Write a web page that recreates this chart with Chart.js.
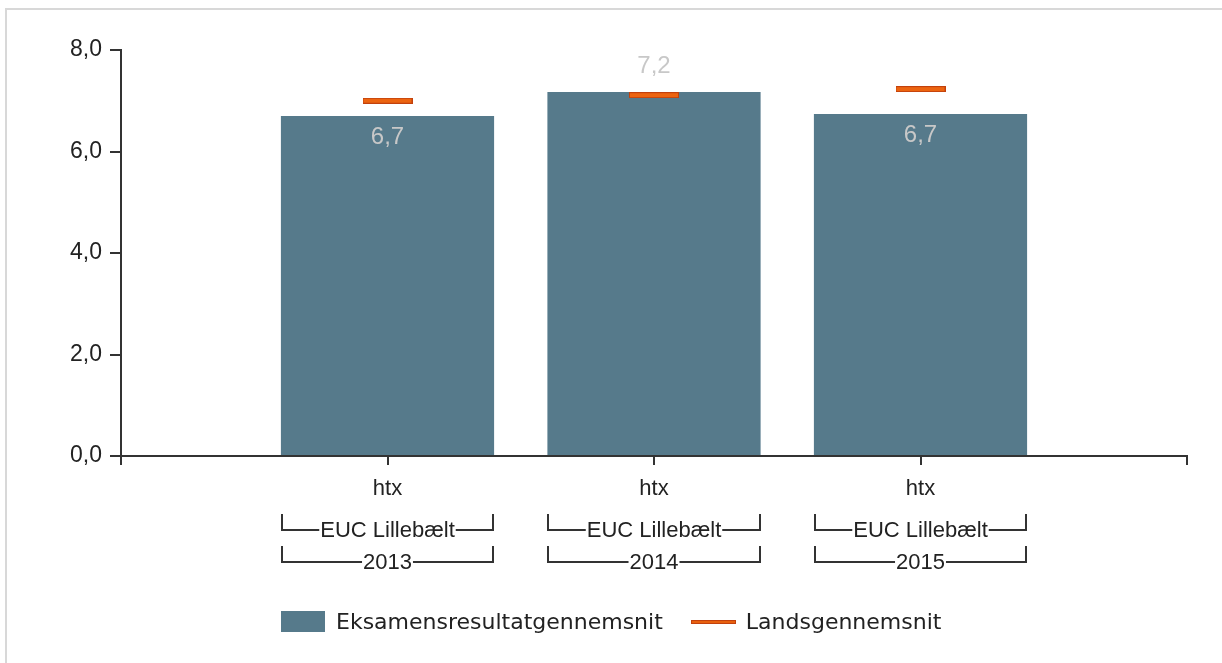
<!DOCTYPE html>
<html lang="da">
<head>
<meta charset="utf-8">
<script src="https://cdn.jsdelivr.net/npm/chart.js@4"></script>
<style>
    html, body { margin: 0; padding: 0; background: #fff; overflow: hidden; }
    body { width: 1222px; height: 663px; position: relative; font-family: "DejaVu Sans", sans-serif; }
    .frame { position: absolute; left: 5px; top: 8px; width: 1300px; height: 700px;
             border-top: 2px solid #d8d8d8; border-left: 2px solid #d8d8d8; }
    #chart { position: absolute; left: 0; top: 0; }
    .legend { position: absolute; top: 611px; left: 281px; height: 21px; display: flex; align-items: center;
              font-size: 22px; color: #222; white-space: nowrap; }
    .legend .box { width: 44px; height: 21px; background: #567a8b; margin-right: 11px; }
    .legend .dash { width: 43px; height: 2px; background: #e8600f; border: 1px solid #c2410c; margin-left: 28px; margin-right: 10px; }
</style>
</head>
<body>
<div class="frame"></div>
<canvas id="chart" width="1222" height="663"></canvas>
<div class="legend">
    <span class="box"></span><span>Eksamensresultatgennemsnit</span>
    <span class="dash"></span><span>Landsgennemsnit</span>
</div>
<script>
// data
const programmes = ['htx', 'htx', 'htx'];
const schools = ['EUC Lillebælt', 'EUC Lillebælt', 'EUC Lillebælt'];
const years = ['2013', '2014', '2015'];
const examAverages = [6.70, 7.17, 6.74];
const nationalAverages = [7.00, 7.11, 7.23];
const yTicks = [0, 2, 4, 6, 8];

const BAR_COLOR = '#567a8b';
const TEXT_COLOR = '#222';
const AXIS_COLOR = '#333';
const ARIAL = '"Liberation Sans", Arial, sans-serif';

// one empty slot on each side of the three groups
const labels = ['', ...programmes, ''];
const pad = arr => [null, ...arr, null];

function fmt(v) {
    return v.toFixed(1).replace('.', ',');
}

// national average marker: short orange bar with darker outline
function makeMarker() {
    const c = document.createElement('canvas');
    c.width = 50;
    c.height = 6;
    const g = c.getContext('2d');
    g.fillStyle = '#c2410c';
    g.fillRect(0, 0, 50, 6);
    g.fillStyle = '#ec6410';
    g.fillRect(1, 1, 48, 4);
    return c;
}

const valueLabels = {
    id: 'valueLabels',
    afterDatasetsDraw(chart) {
        const meta = chart.getDatasetMeta(0);
        const ctx = chart.ctx;
        ctx.save();
        ctx.font = '24px ' + ARIAL;
        ctx.fillStyle = '#c8c8c8';
        ctx.textAlign = 'center';
        ctx.textBaseline = 'middle';
        examAverages.forEach((v, i) => {
            const bar = meta.data[i + 1];
            // label moves above the bar when the marker sits inside it
            const above = nationalAverages[i] < v;
            const y = above ? bar.y - 26 : bar.y + 21;
            ctx.fillText(fmt(v), bar.x, y);
        });
        ctx.restore();
    }
};

const groupBrackets = {
    id: 'groupBrackets',
    afterDraw(chart) {
        const meta = chart.getDatasetMeta(0);
        const ctx = chart.ctx;
        const base = chart.chartArea.bottom;
        const levels = [
            { texts: schools, line: base + 74, top: base + 58, text: base + 75 },
            { texts: years, line: base + 106, top: base + 90, text: base + 107 }
        ];
        ctx.save();
        ctx.font = '22px ' + ARIAL;
        ctx.textAlign = 'center';
        ctx.textBaseline = 'middle';
        ctx.strokeStyle = AXIS_COLOR;
        ctx.lineWidth = 2;
        levels.forEach(level => {
            level.texts.forEach((t, i) => {
                const bar = meta.data[i + 1];
                const l = Math.round(bar.x - bar.width / 2) + 1;
                const r = Math.round(bar.x + bar.width / 2) - 1;
                const w = ctx.measureText(t).width;
                ctx.beginPath();
                ctx.moveTo(l, level.top);
                ctx.lineTo(l, level.line);
                ctx.lineTo(bar.x - w / 2 - 1, level.line);
                ctx.moveTo(bar.x + w / 2 + 1, level.line);
                ctx.lineTo(r, level.line);
                ctx.lineTo(r, level.top);
                ctx.stroke();
                ctx.fillStyle = TEXT_COLOR;
                ctx.fillText(t, bar.x, level.text);
            });
        });
        ctx.restore();
    }
};

new Chart(document.getElementById('chart'), {
    type: 'bar',
    data: {
        labels: labels,
        datasets: [
            {
                label: 'Eksamensresultatgennemsnit',
                data: pad(examAverages),
                backgroundColor: BAR_COLOR,
                categoryPercentage: 0.8,
                barPercentage: 1,
                order: 2
            },
            {
                type: 'line',
                label: 'Landsgennemsnit',
                data: pad(nationalAverages),
                showLine: false,
                pointStyle: makeMarker(),
                order: 1
            }
        ]
    },
    options: {
        responsive: false,
        animation: false,
        layout: { padding: { top: 50, right: 35, left: 0, bottom: 0 } },
        scales: {
            x: {
                offset: false,
                grid: { offset: false, drawOnChartArea: false, color: AXIS_COLOR, lineWidth: 2, tickLength: 9 },
                border: { color: AXIS_COLOR, width: 2 },
                ticks: { color: TEXT_COLOR, font: { family: ARIAL, size: 22 }, padding: 11, maxRotation: 0, autoSkip: false },
                afterFit(scale) { scale.height = 207; }
            },
            y: {
                min: 0,
                max: 8,
                afterBuildTicks(scale) { scale.ticks = yTicks.map(v => ({ value: v })); },
                grid: { drawOnChartArea: false, color: AXIS_COLOR, lineWidth: 2, tickLength: 11 },
                border: { color: AXIS_COLOR, width: 2 },
                ticks: { color: TEXT_COLOR, font: { family: ARIAL, size: 23 }, padding: 8, callback: v => fmt(v) },
                afterFit(scale) { scale.width = 121; }
            }
        },
        plugins: {
            legend: { display: false },
            tooltip: { enabled: false }
        }
    },
    plugins: [valueLabels, groupBrackets]
});
</script>
</body>
</html>
